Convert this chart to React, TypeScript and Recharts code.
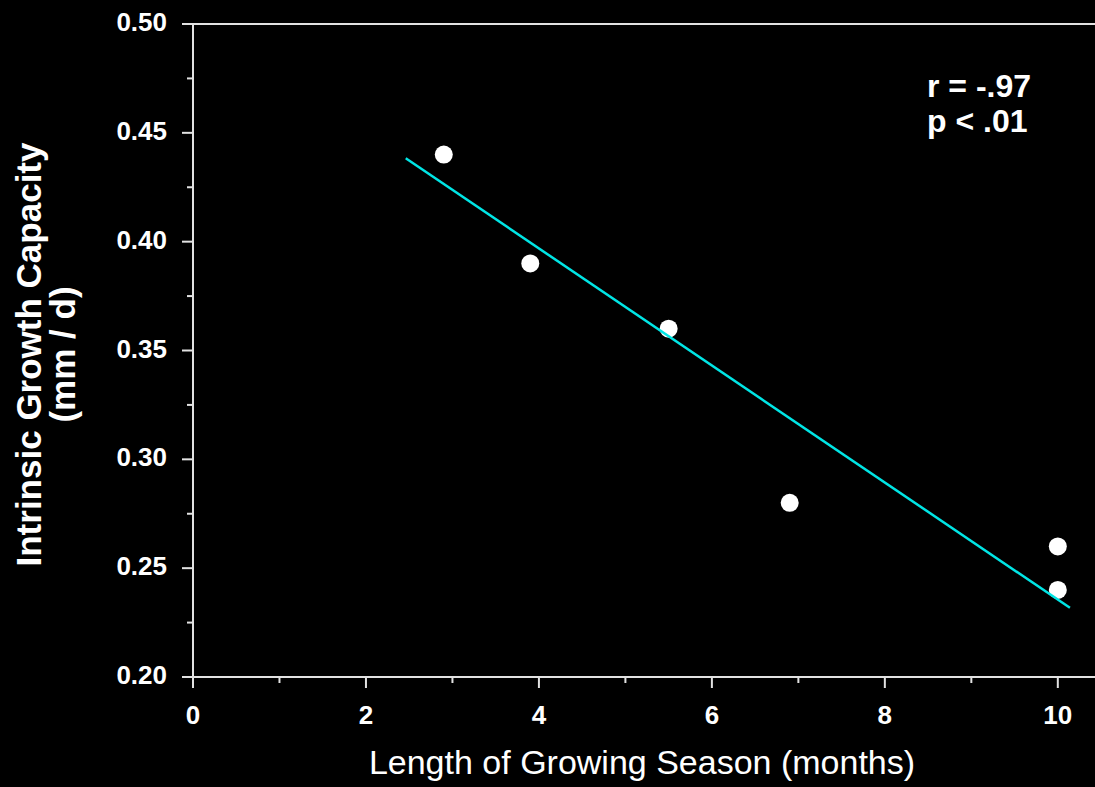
import { ScatterChart, Scatter, XAxis, YAxis, ReferenceLine, Label } from 'recharts';

// growing season length (months) vs intrinsic growth capacity (mm / d)
const seasonMonths = [2.9, 3.9, 5.5, 6.9, 10, 10];
const growthCapacity = [0.44, 0.39, 0.36, 0.28, 0.26, 0.24];

// regression line end points
const fitMonths = [2.46, 10.14];
const fitCapacity = [0.4383, 0.2318];

const xMajorTicks = [0, 2, 4, 6, 8, 10];
const xMinorTicks = [1, 3, 5, 7, 9];
const yMajorTicks = [0.2, 0.25, 0.3, 0.35, 0.4, 0.45, 0.5];
const yMinorTicks = [0.225, 0.275, 0.325, 0.375, 0.425, 0.475];

const statLines = ['r = -.97', 'p < .01'];

const FONT = 'Arial, "Liberation Sans", Helvetica, sans-serif';
const AXIS = '#e2e2e2';
const FIT = '#00e5e5';

const points = seasonMonths.map((x, i) => ({ x, y: growthCapacity[i] }));
const fit = fitMonths.map((x, i) => ({ x, y: fitCapacity[i] }));
const xTicks = [...xMajorTicks, ...xMinorTicks].sort((a, b) => a - b);
const yTicks = [...yMajorTicks, ...yMinorTicks].sort((a, b) => a - b);

function XTick(props: any) {
  const { x, y, payload } = props;
  const major = xMajorTicks.includes(payload.value);
  return (
    <g>
      <line x1={x} x2={x} y1={y} y2={y + (major ? 11 : 6)} stroke={AXIS} strokeWidth={2} />
      {major && (
        <text x={x} y={y + 47} textAnchor="middle" fill="#fff" fontSize={26} fontWeight="bold" fontFamily={FONT}>
          {payload.value}
        </text>
      )}
    </g>
  );
}

function YTick(props: any) {
  const { x, y, payload } = props;
  const major = yMajorTicks.includes(payload.value);
  return (
    <g>
      <line x1={x - (major ? 11 : 6)} x2={x} y1={y} y2={y} stroke={AXIS} strokeWidth={2} />
      {major && (
        <text x={x - 26} y={y + 7} textAnchor="end" fill="#fff" fontSize={26} fontWeight="bold" fontFamily={FONT}>
          {payload.value.toFixed(2)}
        </text>
      )}
    </g>
  );
}

function YTitle(props: any) {
  const vb = props.viewBox ?? { x: 0, y: 24, width: 193, height: 653 };
  const cy = vb.y + vb.height / 2 + 4;
  const x1 = vb.x + 41;
  const x2 = vb.x + 75;
  return (
    <g fill="#fff" fontSize={35} fontWeight="bold" fontFamily={FONT}>
      <text x={x1} y={cy} textAnchor="middle" transform={`rotate(-90, ${x1}, ${cy})`}>
        Intrinsic Growth Capacity
      </text>
      <text x={x2} y={cy} textAnchor="middle" transform={`rotate(-90, ${x2}, ${cy})`}>
        (mm / d)
      </text>
    </g>
  );
}

function XTitle(props: any) {
  const vb = props.viewBox ?? { x: 193, y: 677, width: 902, height: 110 };
  return (
    <text x={vb.x + vb.width / 2 - 2} y={vb.y + 97} textAnchor="middle" fill="#fff" fontSize={34} fontFamily={FONT}>
      Length of Growing Season (months)
    </text>
  );
}

export default function App() {
  return (
    <div style={{ position: 'absolute', left: 0, top: 0, width: 1095, height: 787, background: '#000' }}>
      <ScatterChart width={1095} height={787} margin={{ top: 24, right: 0, bottom: 0, left: 0 }}>
        <XAxis
          type="number"
          dataKey="x"
          domain={[0, 10.43]}
          ticks={xTicks}
          interval={0}
          tickSize={0}
          tickMargin={0}
          tickLine={false}
          tick={(p: any) => <XTick {...p} />}
          axisLine={{ stroke: AXIS, strokeWidth: 2 }}
          height={110}
        >
          <Label content={(p: any) => <XTitle {...p} />} />
        </XAxis>
        <YAxis
          type="number"
          dataKey="y"
          domain={[0.2, 0.5]}
          ticks={yTicks}
          interval={0}
          tickSize={0}
          tickMargin={0}
          tickLine={false}
          tick={(p: any) => <YTick {...p} />}
          axisLine={{ stroke: AXIS, strokeWidth: 2 }}
          width={193}
        >
          <Label content={(p: any) => <YTitle {...p} />} />
        </YAxis>
        <ReferenceLine y={0.5} stroke={AXIS} strokeWidth={2} />
        <Scatter
          data={points}
          isAnimationActive={false}
          shape={(p: any) => <circle cx={p.cx} cy={p.cy} r={9} fill="#fff" />}
        />
        <Scatter
          data={fit}
          isAnimationActive={false}
          line={{ stroke: FIT, strokeWidth: 2.5 }}
          shape={() => <g />}
        />
      </ScatterChart>
      <svg width={1095} height={787} style={{ position: 'absolute', left: 0, top: 0, pointerEvents: 'none' }}>
        {statLines.map((s, i) => (
          <text key={s} x={927} y={97 + i * 35} fill="#fff" fontSize={32} fontWeight="bold" fontFamily={FONT}>
            {s}
          </text>
        ))}
      </svg>
    </div>
  );
}
